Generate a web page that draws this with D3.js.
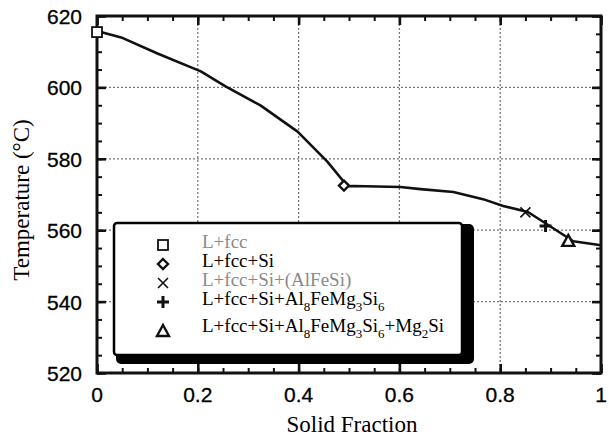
<!DOCTYPE html>
<html lang="en">
<head>
<meta charset="UTF-8">
<title>Solidification path</title>
<script src="https://d3js.org/d3.v7.min.js"></script>
<style>
    body { margin: 0; background: #fff; }
    .tick-label { font-family: 'Liberation Sans', Arial, sans-serif; font-size: 21px; fill: #000; stroke: #000; stroke-width: 0.3; }
    .title { font-family: 'Liberation Serif', 'Times New Roman', serif; font-size: 23px; fill: #000; }
    .grid { stroke: #777; stroke-width: 1.3; stroke-dasharray: 2,2; fill: none; }
    .curve { fill: none; stroke: #111; stroke-width: 2.6; stroke-linejoin: round; }
</style>
</head>
<body>
<svg width="609" height="437"></svg>
<script>
// curve
const solidFraction = [0, 0.048, 0.12, 0.206, 0.255, 0.325, 0.398, 0.457, 0.497, 0.509, 0.602, 0.642, 0.707, 0.766, 0.806, 0.855, 0.899, 0.945, 1.0];
const temperature   = [615.8, 614.0, 609.5, 604.5, 600.3, 594.9, 587.6, 579.2, 572.3, 572.4, 572.1, 571.5, 570.7, 568.7, 566.8, 565.1, 561.1, 556.9, 555.8];

// phase markers
const phaseLabels = ["L+fcc", "L+fcc+Si", "L+fcc+Si+(AlFeSi)", "L+fcc+Si+Al8FeMg3Si6", "L+fcc+Si+Al8FeMg3Si6+Mg2Si"];
const phaseSymbols = ["square", "diamond", "cross", "plus", "triangle"];
const phaseFraction = [0, 0.49, 0.85, 0.89, 0.935];
const phaseTemp = [615.5, 572.5, 565, 561.2, 557];
const phaseFaded = [true, false, true, false, false];

const xTicks = [0, 0.2, 0.4, 0.6, 0.8, 1];
const yTicks = [520, 540, 560, 580, 600, 620];

const svg = d3.select("svg"),
    margin = {top: 16, right: 8, bottom: 64, left: 97},
    width = +svg.attr("width") - margin.left - margin.right,
    height = +svg.attr("height") - margin.top - margin.bottom,
    g = svg.append("g").attr("transform", "translate(" + margin.left + "," + margin.top + ")");

const x = d3.scaleLinear().domain([0, 1]).range([0, width]);
const y = d3.scaleLinear().domain([520, 620]).range([height, 0]);

// dotted grid
g.selectAll(".gx").data(xTicks.slice(1, -1)).enter().append("line")
    .attr("class", "grid")
    .attr("x1", d => x(d)).attr("x2", d => x(d))
    .attr("y1", 0).attr("y2", height);
g.selectAll(".gy").data(yTicks.slice(1, -1)).enter().append("line")
    .attr("class", "grid")
    .attr("x1", 0).attr("x2", width)
    .attr("y1", d => y(d)).attr("y2", d => y(d));

// ticks pointing inward on all sides, minor then major
const xMinor = d3.range(0, 1.0001, 0.05);
const yMinor = d3.range(520, 620.001, 5);

function addTicks(vals, size, sw) {
    const axes = [
        g.append("g").attr("transform", "translate(0," + height + ")").call(d3.axisBottom(x).tickValues(vals.x).tickSize(-size).tickFormat("")),
        g.append("g").call(d3.axisTop(x).tickValues(vals.x).tickSize(-size).tickFormat("")),
        g.append("g").call(d3.axisLeft(y).tickValues(vals.y).tickSize(-size).tickFormat("")),
        g.append("g").attr("transform", "translate(" + width + ",0)").call(d3.axisRight(y).tickValues(vals.y).tickSize(-size).tickFormat(""))
    ];
    axes.forEach(a => {
        a.select(".domain").remove();
        a.selectAll("line").attr("stroke", "#111").attr("stroke-width", sw);
    });
}
addTicks({x: xMinor, y: yMinor}, 5, 2);
addTicks({x: xTicks, y: yTicks}, 9, 2.6);

// frame
g.append("rect")
    .attr("width", width).attr("height", height)
    .attr("fill", "none").attr("stroke", "#111").attr("stroke-width", 3);

// tick labels
g.selectAll(".xl").data(xTicks).enter().append("text")
    .attr("class", "tick-label")
    .attr("x", d => x(d)).attr("y", height + 29)
    .attr("text-anchor", "middle")
    .text(d => d3.format("")(d));
g.selectAll(".yl").data(yTicks).enter().append("text")
    .attr("class", "tick-label")
    .attr("x", -15).attr("y", d => y(d) + 8)
    .attr("text-anchor", "end")
    .text(d => d);

// axis titles
svg.append("text").attr("class", "title")
    .attr("x", 352).attr("y", 432)
    .attr("text-anchor", "middle")
    .text("Solid Fraction");
svg.append("text").attr("class", "title")
    .attr("transform", "translate(29,200) rotate(-90)")
    .attr("text-anchor", "middle")
    .text("Temperature (°C)");

// curve
const line = d3.line().x((d, i) => x(solidFraction[i])).y((d, i) => y(temperature[i]));
g.append("path").datum(temperature).attr("class", "curve").attr("d", line);

// marker drawing
function drawMarker(sel, type, cx, cy) {
    const s = 5;
    if (type === "square") {
        sel.append("rect").attr("x", cx - s).attr("y", cy - s).attr("width", 2 * s).attr("height", 2 * s)
            .attr("fill", "#fff").attr("stroke", "#111").attr("stroke-width", 1.8);
    } else if (type === "diamond") {
        sel.append("path").attr("d", `M${cx},${cy - s}L${cx + s},${cy}L${cx},${cy + s}L${cx - s},${cy}Z`)
            .attr("fill", "#fff").attr("stroke", "#111").attr("stroke-width", 2.4);
    } else if (type === "cross") {
        sel.append("path").attr("d", `M${cx - s},${cy - s}L${cx + s},${cy + s}M${cx - s},${cy + s}L${cx + s},${cy - s}`)
            .attr("stroke", "#111").attr("stroke-width", 1.6);
    } else if (type === "plus") {
        sel.append("path").attr("d", `M${cx - s - 1},${cy}L${cx + s + 1},${cy}M${cx},${cy - s - 1}L${cx},${cy + s + 1}`)
            .attr("stroke", "#111").attr("stroke-width", 3);
    } else if (type === "triangle") {
        sel.append("path").attr("d", `M${cx},${cy - s - 1}L${cx + s + 1},${cy + s}L${cx - s - 1},${cy + s}Z`)
            .attr("fill", "#fff").attr("stroke", "#111").attr("stroke-width", 2.4);
    }
}

phaseSymbols.forEach((t, i) => drawMarker(g, t, x(phaseFraction[i]), y(phaseTemp[i])));

// legend with drop shadow
const lg = svg.append("g");
const lx = 114, ly = 223, lw = 348, lh = 132;
lg.append("rect").attr("x", lx + 2).attr("y", ly + 1).attr("width", lw + 10).attr("height", lh + 8)
    .attr("rx", 5).attr("fill", "#000");
lg.append("rect").attr("x", lx).attr("y", ly).attr("width", lw).attr("height", lh)
    .attr("rx", 3).attr("fill", "#fff").attr("stroke", "#000").attr("stroke-width", 2.5);

const legendY = [245, 264, 283, 302, 331];
const baseY = [248, 267, 286, 305, 332];
function richLabel(textSel, label) {
    // numbers become subscripts
    const parts = label.split(/(\d+)/).filter(p => p !== "");
    let shift = 0;
    parts.forEach(p => {
        if (/^\d+$/.test(p)) {
            textSel.append("tspan").attr("dy", 6 - shift).attr("font-size", 13).text(p);
            shift = 6;
        } else {
            textSel.append("tspan").attr("dy", -shift).text(p);
            shift = 0;
        }
    });
}
phaseLabels.forEach((lab, i) => {
    drawMarker(lg, phaseSymbols[i], 163, legendY[i]);
    const t = lg.append("text")
        .attr("font-family", "'Liberation Serif', 'Times New Roman', serif")
        .attr("font-size", 19)
        .attr("x", 202).attr("y", baseY[i])
        .attr("fill", phaseFaded[i] ? "#8a8a8a" : "#000");
    richLabel(t, lab);
});
</script>
</body>
</html>
